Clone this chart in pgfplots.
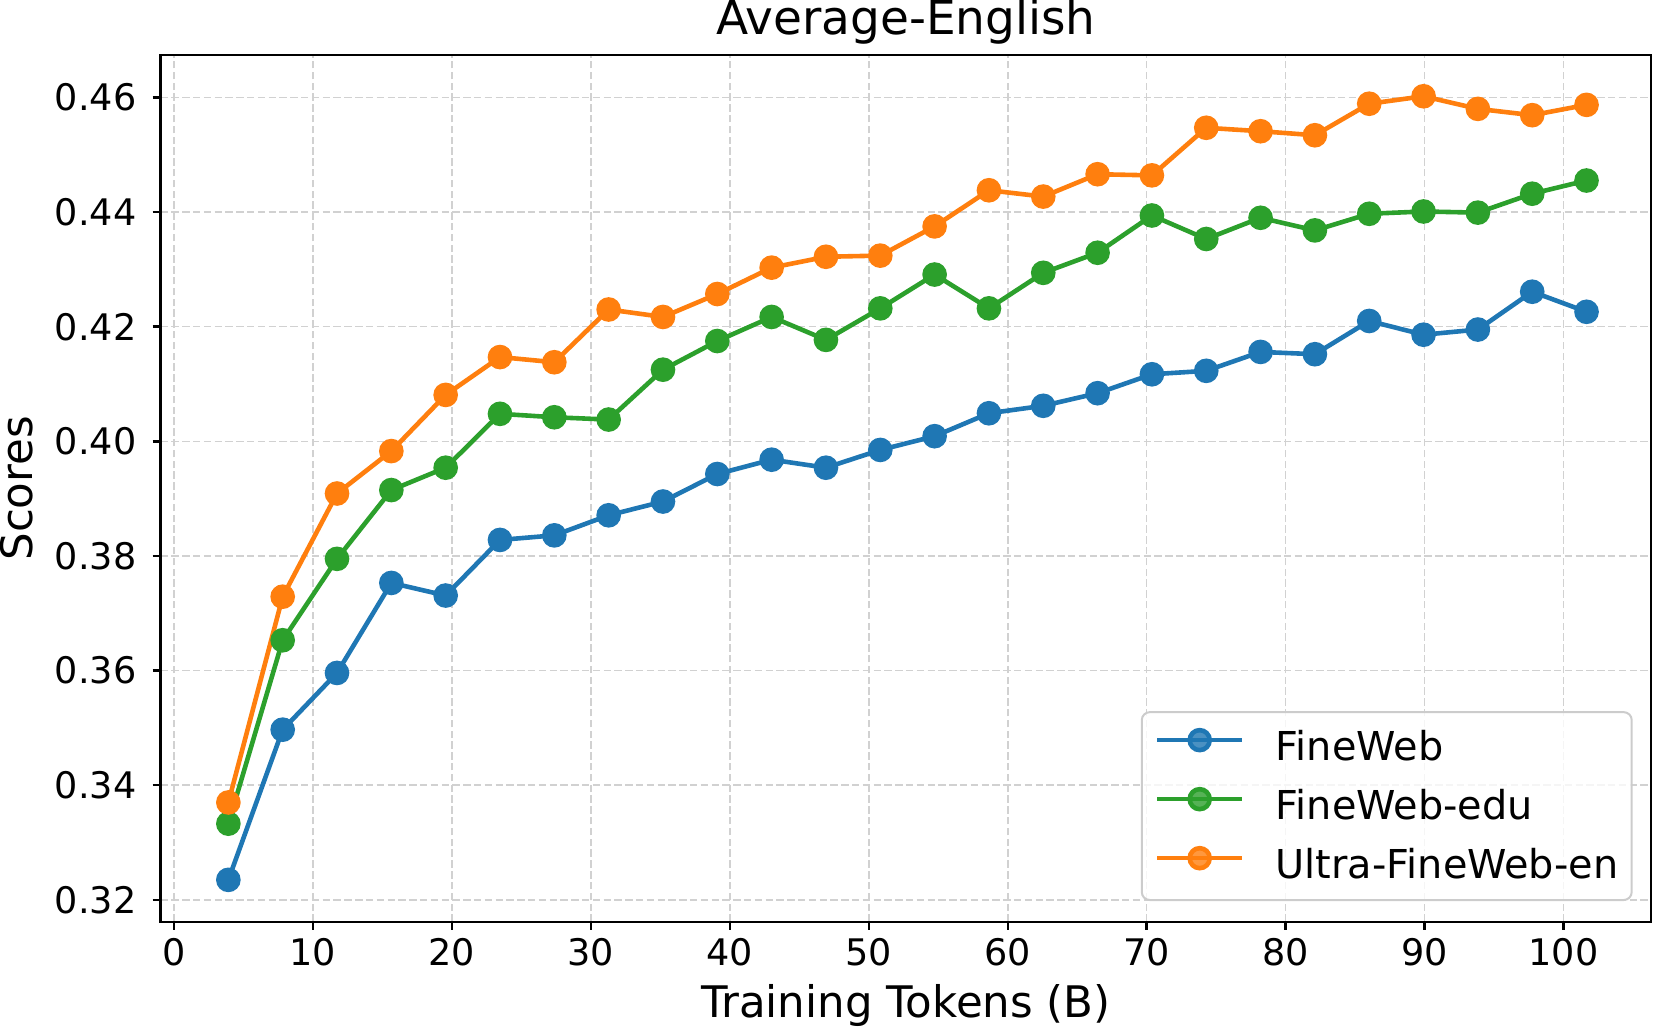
\documentclass[border=0pt]{standalone}
\usepackage{fontspec}
\setmainfont{DejaVu Sans}
\usepackage{pgfplots}
\pgfplotsset{compat=1.18}
\definecolor{cblue}{HTML}{1F77B4}
\definecolor{corange}{HTML}{FF7F0E}
\definecolor{cgreen}{HTML}{2CA02C}

\begin{document}
\begin{tikzpicture}
\begin{axis}[
  scale only axis,
  width=745.15pt, height=433.35pt,
  xmin=-0.96, xmax=106.3,
  ymin=0.3162, ymax=0.4674,
  xtick={0,10,20,30,40,50,60,70,80,90,100},
  ytick={0.32,0.34,0.36,0.38,0.40,0.42,0.44,0.46},
  scaled y ticks=false,
  yticklabel style={/pgf/number format/.cd, fixed, fixed zerofill, precision=2, /tikz/.cd},
  /pgf/number format/assume math mode=true,
  tick label style={font=\fontsize{18.3}{22}\selectfont},
  xticklabel style={anchor=north, inner sep=0pt, yshift=-4.2pt},
  yticklabel style={anchor=east, inner sep=0pt, xshift=-8pt},
  xtick pos=bottom, ytick pos=left,
  tick align=outside, major tick length=4pt,
  tick style={black, line width=1.2pt},
  axis line style={line width=1.2pt},
  grid=major,
  major grid style={black!18, line width=0.8pt, dash pattern=on 3.7pt off 1.7pt},
  xlabel={Training Tokens (B)},
  xlabel style={font=\fontsize{21.75}{26}\selectfont, at={(axis description cs:0.5,0)}, anchor=base, yshift=-47.65pt},
  ylabel={Scores},
  ylabel style={font=\fontsize{21.75}{26}\selectfont, at={(axis description cs:-0.08569,0.5)}, anchor=base},
  every axis plot/.append style={line width=2.3pt, mark=*, mark size=5pt, mark options={solid}},
  legend cell align=left,
  legend image code/.code={\draw[mark repeat=2, mark phase=2, #1] plot coordinates {(0pt,0.36em) (21.1pt,0.36em) (42.2pt,0.36em)};},
  legend style={at={(axis description cs:1,0)}, anchor=south east, xshift=-9.15pt, yshift=10.35pt,
    draw=black!20, line width=1pt, rounded corners=4pt, fill=white, fill opacity=0.8, text opacity=1,
    inner xsep=6.7pt, inner ysep=9pt, font=\fontsize{19.9}{24}\selectfont,
    nodes={inner sep=0pt}, row sep=12.6pt, column sep=15.8pt},
]
\addplot[color=cblue] coordinates {
(3.91,0.3235) (7.82,0.3497) (11.73,0.3596) (15.64,0.3753) (19.55,0.3731)
(23.46,0.3828) (27.37,0.3836) (31.28,0.3871) (35.19,0.3895) (39.10,0.3943)
(43.01,0.3968) (46.92,0.3954) (50.83,0.3985) (54.74,0.4009) (58.65,0.4049)
(62.56,0.4062) (66.47,0.4084) (70.38,0.4117) (74.29,0.4123) (78.20,0.4156)
(82.11,0.4152) (86.02,0.4210) (89.93,0.4186) (93.84,0.4195) (97.75,0.4261)
(101.66,0.4226)
};
\addlegendentry{FineWeb}
\addplot[color=cgreen] coordinates {
(3.91,0.3333) (7.82,0.3653) (11.73,0.3795) (15.64,0.3915) (19.55,0.3954)
(23.46,0.4048) (27.37,0.4042) (31.28,0.4038) (35.19,0.4125) (39.10,0.4175)
(43.01,0.4217) (46.92,0.4177) (50.83,0.4232) (54.74,0.4291) (58.65,0.4232)
(62.56,0.4294) (66.47,0.4329) (70.38,0.4394) (74.29,0.4353) (78.20,0.4390)
(82.11,0.4368) (86.02,0.4397) (89.93,0.4401) (93.84,0.4399) (97.75,0.4432)
(101.66,0.4455)
};
\addlegendentry{FineWeb-edu}
\addplot[color=corange] coordinates {
(3.91,0.3370) (7.82,0.3729) (11.73,0.3909) (15.64,0.3983) (19.55,0.4081)
(23.46,0.4147) (27.37,0.4138) (31.28,0.4230) (35.19,0.4217) (39.10,0.4257)
(43.01,0.4303) (46.92,0.4322) (50.83,0.4324) (54.74,0.4375) (58.65,0.4438)
(62.56,0.4427) (66.47,0.4466) (70.38,0.4464) (74.29,0.4547) (78.20,0.4541)
(82.11,0.4534) (86.02,0.4589) (89.93,0.4602) (93.84,0.4580) (97.75,0.4569)
(101.66,0.4587)
};
\addlegendentry{Ultra-FineWeb-en}
\end{axis}
\node[font=\fontsize{23.5}{28}\selectfont, anchor=base, inner sep=0pt] at ([yshift=10pt]current axis.north) {Average-English};
\pgfresetboundingbox
\path ([shift={(-80.35pt,-53.15pt)}]current axis.south west) rectangle ([shift={(4.5pt,27.5pt)}]current axis.north east);
\end{tikzpicture}
\end{document}
